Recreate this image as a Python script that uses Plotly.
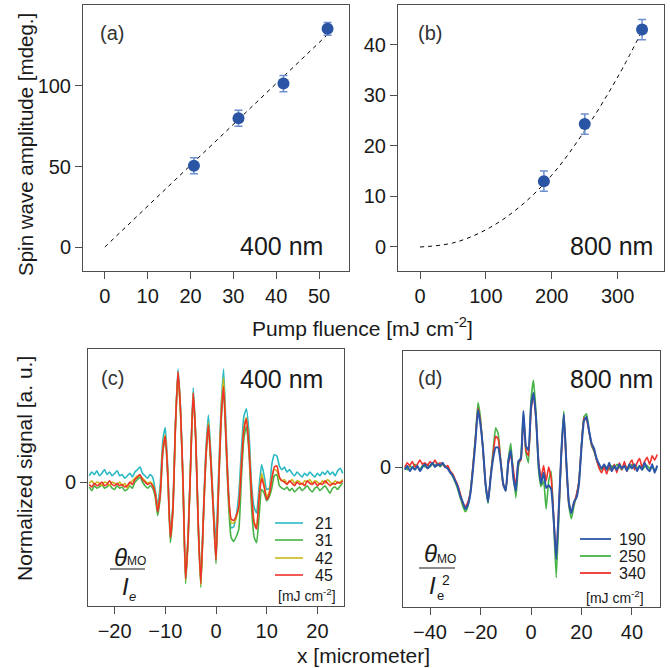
import plotly.graph_objects as go

W, H = 670, 668
FONT = "Liberation Sans, Arial, Helvetica, sans-serif"

# ---------------- (a) 400 nm pump: spin-wave amplitude vs fluence ----------------
fluence_400 = [20.8, 31.2, 41.7, 52.0]
amp_400 = [50.5, 80.0, 101.5, 135.5]
err_400 = [5.0, 5.0, 5.0, 4.0]
fit_400_x = [0, 52]
fit_400_y = [0, 132]

# ---------------- (b) 800 nm pump ----------------
fluence_800 = [188, 250, 337]
amp_800 = [13.0, 24.3, 43.0]
err_800 = [2.0, 2.0, 2.0]
fit_800_x = [0, 50, 100, 150, 200, 250, 300, 340]
fit_800_y = [0, 0.8, 3.4, 7.8, 14.2, 23.0, 33.6, 43.5]

# ---------------- (c) spatial profiles, 400 nm (theta_MO / I_e) ----------------
x_400 = [round(-25 + 0.5 * i, 2) for i in range(101)]
labels_400 = ["21", "31", "42", "45"]
colors_400 = ["#29b9c4", "#45b345", "#c9b918", "#f0302a"]
sig_21 = [0.05, 0.08, 0.06, 0.09, 0.05, 0.07, 0.10, 0.06, 0.08, 0.05,
          0.07, 0.09, 0.05, 0.06, 0.03, 0.05, 0.07, 0.04, 0.08, 0.10,
          0.12, 0.07, 0.05, 0.03, 0.06, 0.04, -0.06, -0.19, -0.02, 0.33,
          0.44, 0.10, -0.42, -0.18, 0.48, 0.91, 0.60, 0.02, -0.77, -0.42,
          0.18, 0.76, 0.38, -0.32, -0.80, -0.26, 0.26, 0.54, 0.22, -0.20,
          -0.47, 0.05, 0.60, 0.91, 0.40, -0.10, -0.37, -0.36, -0.27, -0.10,
          0.25, 0.53, 0.59, 0.40, -0.01, -0.20, -0.25, -0.04, 0.14, 0.05,
          -0.06, -0.05, 0.14, 0.22, 0.21, 0.13, 0.10, 0.12, 0.08, 0.10,
          0.07, 0.05, 0.08, 0.06, 0.04, 0.07, 0.05, 0.08, 0.06, 0.04,
          0.07, 0.05, 0.08, 0.06, 0.09, 0.06, 0.08, 0.05, 0.09, 0.11,
          0.07]
sig_31 = [-0.04, -0.07, -0.03, -0.05, -0.04, -0.02, -0.05, -0.04, -0.02, -0.05,
          -0.06, -0.03, -0.05, -0.04, -0.07, -0.06, -0.03, -0.05, 0.00, 0.02,
          0.04, 0.00, -0.03, -0.05, -0.03, -0.05, -0.12, -0.27, -0.12, 0.23,
          0.36, 0.02, -0.49, -0.24, 0.43, 0.87, 0.56, -0.04, -0.82, -0.47,
          0.13, 0.70, 0.33, -0.38, -0.85, -0.32, 0.18, 0.44, 0.13, -0.27,
          -0.66, -0.08, 0.48, 0.75, 0.28, -0.20, -0.45, -0.48, -0.44, -0.38,
          0.02, 0.35, 0.45, 0.24, -0.20, -0.44, -0.49, -0.28, -0.06, -0.09,
          -0.15, -0.12, -0.05, 0.05, 0.06, -0.03, -0.05, -0.06, -0.04, -0.07,
          -0.05, -0.08, -0.06, -0.04, -0.07, -0.05, -0.03, -0.06, -0.08, -0.05,
          -0.04, -0.07, -0.05, -0.03, -0.06, -0.09, -0.05, -0.04, -0.06, -0.03,
          -0.01]
sig_42 = [-0.01, 0.01, -0.02, 0.00, -0.01, -0.03, 0.00, -0.01, -0.03, 0.00,
          -0.01, -0.02, 0.00, -0.03, -0.01, -0.05, -0.01, 0.01, 0.03, 0.05,
          0.05, 0.03, 0.01, -0.01, 0.00, -0.02, -0.08, -0.23, -0.08, 0.27,
          0.38, 0.06, -0.44, -0.21, 0.46, 0.88, 0.57, 0.00, -0.79, -0.44,
          0.16, 0.72, 0.36, -0.34, -0.83, -0.29, 0.22, 0.48, 0.16, -0.24,
          -0.61, -0.02, 0.55, 0.84, 0.34, -0.12, -0.33, -0.33, -0.29, -0.19,
          0.14, 0.44, 0.52, 0.30, -0.08, -0.32, -0.36, -0.11, 0.07, -0.02,
          -0.12, -0.08, 0.04, 0.10, 0.09, 0.03, 0.01, 0.02, -0.01, 0.00,
          0.02, -0.01, 0.01, 0.00, -0.02, 0.01, 0.00, 0.02, -0.01, 0.01,
          0.00, -0.02, 0.01, -0.01, 0.02, 0.00, -0.02, 0.01, -0.01, 0.00,
          0.02]
sig_45 = [-0.02, -0.04, -0.01, -0.03, -0.02, 0.00, -0.03, -0.02, 0.01, -0.02,
          -0.03, -0.01, -0.03, -0.02, -0.04, -0.03, 0.00, -0.02, 0.02, 0.04,
          0.06, 0.02, 0.00, -0.02, -0.01, -0.03, -0.09, -0.24, -0.10, 0.25,
          0.37, 0.05, -0.45, -0.22, 0.45, 0.89, 0.58, -0.01, -0.78, -0.45,
          0.15, 0.72, 0.35, -0.35, -0.82, -0.30, 0.20, 0.46, 0.15, -0.25,
          -0.63, -0.05, 0.50, 0.77, 0.32, -0.12, -0.30, -0.31, -0.27, -0.20,
          0.12, 0.42, 0.51, 0.28, -0.09, -0.33, -0.38, -0.13, 0.03, -0.04,
          -0.14, -0.10, 0.02, 0.12, 0.13, 0.04, 0.01, 0.00, -0.02, 0.01,
          -0.01, -0.03, 0.00, -0.02, -0.01, -0.03, 0.01, -0.01, -0.02, 0.00,
          -0.03, -0.01, -0.02, 0.01, -0.01, -0.03, -0.01, -0.02, 0.00, -0.01,
          0.01]
signals_400 = [sig_21, sig_31, sig_42, sig_45]

# ---------------- (d) spatial profiles, 800 nm (theta_MO / I_e^2) ----------------
x_800 = list(range(-50, 51))
labels_800 = ["190", "250", "340"]
colors_800 = ["#2b55a8", "#45b345", "#f0302a"]
sig_190 = [-0.02, 0.01, -0.03, 0.00, -0.02, 0.01, -0.03, 0.00, 0.02, -0.01,
           0.01, 0.03, 0.00, 0.02, 0.01, 0.03, 0.00, -0.01, -0.04, -0.06,
           -0.10, -0.14, -0.21, -0.25, -0.30, -0.27, -0.19, -0.02, 0.18, 0.41,
           0.30, 0.13, -0.12, -0.25, -0.08, 0.06, 0.14, 0.14, 0.03, -0.12,
           -0.17, 0.04, 0.12, -0.08, -0.17, 0.04, 0.06, 0.40, 0.15, 0.12,
           0.43, 0.53, 0.35, 0.02, -0.12, -0.04, -0.15, -0.13, -0.16, -0.38,
           -0.66, -0.30, 0.10, 0.38, 0.03, -0.25, -0.33, -0.25, -0.22, -0.12,
           0.14, 0.33, 0.36, 0.26, 0.17, 0.13, 0.06, 0.02, -0.01, 0.02,
           -0.02, 0.03, -0.03, 0.01, -0.02, 0.02, -0.01, 0.01, -0.03, 0.02,
           -0.01, 0.02, -0.03, 0.01, -0.02, 0.03, -0.01, -0.03, 0.02, -0.04,
           0.01]
sig_250 = [0.00, -0.02, 0.01, -0.01, 0.02, 0.00, -0.02, 0.01, 0.00, 0.02,
           0.00, 0.02, 0.01, 0.03, 0.00, 0.02, 0.01, -0.01, -0.03, -0.07,
           -0.11, -0.16, -0.22, -0.28, -0.32, -0.28, -0.17, 0.01, 0.22, 0.46,
           0.35, 0.12, -0.13, -0.26, -0.06, 0.12, 0.28, 0.24, 0.05, -0.12,
           -0.17, 0.05, 0.17, -0.05, -0.22, 0.00, 0.08, 0.39, 0.10, 0.03,
           0.48, 0.62, 0.38, -0.02, -0.14, -0.10, -0.30, -0.10, -0.03, -0.40,
           -0.79, -0.38, 0.10, 0.40, 0.05, -0.28, -0.37, -0.28, -0.20, -0.10,
           0.16, 0.36, 0.38, 0.26, 0.15, 0.11, 0.05, 0.00, -0.02, 0.01,
           0.00, -0.02, 0.01, -0.01, 0.02, 0.00, -0.02, 0.01, 0.00, -0.01,
           0.02, 0.00, -0.01, 0.01, -0.02, 0.00, 0.01, -0.01, 0.00, -0.02,
           -0.01]
sig_340 = [0.00, 0.03, 0.01, 0.04, 0.00, 0.02, 0.05, 0.02, 0.03, 0.01,
           0.04, 0.02, 0.05, 0.01, 0.03, 0.02, 0.00, 0.01, -0.03, -0.05,
           -0.09, -0.13, -0.19, -0.26, -0.28, -0.25, -0.18, 0.00, 0.20, 0.42,
           0.32, 0.12, -0.12, -0.24, -0.07, 0.09, 0.22, 0.20, 0.04, -0.13,
           -0.16, 0.02, 0.09, -0.02, -0.14, 0.03, 0.05, 0.36, 0.12, 0.08,
           0.40, 0.52, 0.34, 0.04, -0.08, 0.01, -0.10, 0.00, -0.08, -0.36,
           -0.64, -0.30, 0.08, 0.37, 0.02, -0.26, -0.32, -0.26, -0.20, -0.10,
           0.15, 0.35, 0.34, 0.25, 0.16, 0.12, 0.05, -0.01, -0.04, 0.00,
           -0.05, 0.01, -0.03, 0.02, -0.04, 0.03, -0.02, 0.04, -0.03, 0.02,
           0.05, -0.02, 0.03, 0.06, 0.00, 0.04, 0.07, 0.02, 0.08, 0.05,
           0.09]
signals_800 = [sig_190, sig_250, sig_340]
draw_order_800 = [1, 2, 0]  # blue trace painted last


def px(x):
    return x / W


def py(y):
    return 1 - y / H


fig = go.Figure()

MARK = "#2a55a5"
ERR = "#6d8fd0"

# (a)
fig.add_trace(go.Scatter(x=fit_400_x, y=fit_400_y, mode="lines",
                         line=dict(color="black", width=1, dash="4px,4px"),
                         xaxis="x", yaxis="y", showlegend=False))
fig.add_trace(go.Scatter(x=fluence_400, y=amp_400, mode="markers",
                         marker=dict(color=MARK, size=12),
                         error_y=dict(type="data", array=err_400, color=ERR,
                                      thickness=1.5, width=4),
                         xaxis="x", yaxis="y", showlegend=False))
# (b)
fig.add_trace(go.Scatter(x=fit_800_x, y=fit_800_y, mode="lines",
                         line=dict(color="black", width=1, dash="4px,4px", shape="spline"),
                         xaxis="x2", yaxis="y2", showlegend=False))
fig.add_trace(go.Scatter(x=fluence_800, y=amp_800, mode="markers",
                         marker=dict(color=MARK, size=12),
                         error_y=dict(type="data", array=err_800, color=ERR,
                                      thickness=1.5, width=4),
                         xaxis="x2", yaxis="y2", showlegend=False))
# (c)
for sig, col in zip(signals_400, colors_400):
    fig.add_trace(go.Scatter(x=x_400, y=sig, mode="lines",
                             line=dict(color=col, width=1.6, shape="spline", smoothing=0.5),
                             xaxis="x3", yaxis="y3", showlegend=False))
# (d)
for k in draw_order_800:
    fig.add_trace(go.Scatter(x=x_800, y=signals_800[k], mode="lines",
                             line=dict(color=colors_800[k], width=2.0 if k == 0 else 1.6,
                                       shape="spline", smoothing=0.4),
                             xaxis="x4", yaxis="y4", showlegend=False))

AX = dict(showline=True, linecolor="#4d4d4d", linewidth=1, mirror=True,
          ticks="outside", ticklen=7, tickcolor="#4d4d4d", tickwidth=1,
          showgrid=False, zeroline=False,
          tickfont=dict(family=FONT, size=20, color="#1a1a1a"))

fig.update_layout(
    width=W, height=H, margin=dict(l=0, r=0, t=0, b=0),
    paper_bgcolor="white", plot_bgcolor="white",
    xaxis=dict(AX, domain=[px(83), px(349)], range=[-5.1, 57], anchor="y",
               tickvals=[0, 10, 20, 30, 40, 50]),
    yaxis=dict(AX, domain=[py(271), py(5)], range=[-14.9, 150.3], anchor="x",
               tickvals=[0, 50, 100]),
    xaxis2=dict(AX, domain=[px(398), px(664)], range=[-33.4, 370.3], anchor="y2",
                tickvals=[0, 100, 200, 300]),
    yaxis2=dict(AX, domain=[py(271), py(5)], range=[-4.75, 47.85], anchor="x2",
                tickvals=[0, 10, 20, 30, 40]),
    xaxis3=dict(AX, domain=[px(88), px(344)], range=[-25.25, 25.25], anchor="y3",
                tickvals=[-20, -10, 0, 10, 20]),
    yaxis3=dict(AX, domain=[py(606), py(349)], range=[-1.0, 1.0726], anchor="x3",
                tickvals=[0], ticktext=["0"]),
    xaxis4=dict(AX, domain=[px(403), px(660)], range=[-50.7, 51.1], anchor="y4",
                tickvals=[-40, -20, 0, 20, 40]),
    yaxis4=dict(AX, domain=[py(607), py(351)], range=[-1.0, 0.829], anchor="x4",
                tickvals=[0], ticktext=["0"]),
)

ann = []


def text(x, y, s, size, angle=0, xanchor="center", color="#1a1a1a", style="normal"):
    ann.append(dict(x=px(x), y=py(y), xref="paper", yref="paper", text=s,
                    showarrow=False, xanchor=xanchor, yanchor="middle",
                    textangle=angle,
                    font=dict(family=FONT, size=size, color=color, style=style)))


# axis titles
text(25, 145, "Spin wave amplitude [mdeg.]", 20.5, angle=-90)
text(362, 327, "Pump fluence [mJ cm<sup>-2</sup>]", 21)
text(25, 469, "Normalized signal [a. u.]", 21, angle=-90)
text(364, 655, "x [micrometer]", 21)

# panel tags and wavelengths
text(112, 33, "(a)", 20, color="#333333")
text(430, 33, "(b)", 20, color="#333333")
text(112, 378, "(c)", 20, color="#333333")
text(430, 378, "(d)", 20, color="#333333")
text(281, 246, "400 nm", 25)
text(611, 246, "800 nm", 25)
text(281, 379, "400 nm", 25)
text(611, 379, "800 nm", 25)

shapes = []

# legend (c)
leg_y_400 = [523, 540, 558, 575]
for lab, col, yy in zip(labels_400, colors_400, leg_y_400):
    shapes.append(dict(type="line", xref="paper", yref="paper",
                       x0=px(275), x1=px(303), y0=py(yy), y1=py(yy),
                       line=dict(color=col, width=1.6)))
    text(313, yy, lab, 16, xanchor="left")
text(338, 595, "[mJ cm<sup>-2</sup>]", 14, xanchor="right")

# legend (d)
leg_y_800 = [539, 556, 573]
for lab, col, yy in zip(labels_800, colors_800, leg_y_800):
    shapes.append(dict(type="line", xref="paper", yref="paper",
                       x0=px(580), x1=px(611), y0=py(yy), y1=py(yy),
                       line=dict(color=col, width=1.8)))
    text(617, yy, lab, 16, xanchor="left")
text(646, 597, "[mJ cm<sup>-2</sup>]", 14, xanchor="right")

# normalisation fractions
text(120, 557, "θ", 24, style="italic")
text(136, 561, "MO", 12)
shapes.append(dict(type="line", xref="paper", yref="paper",
                   x0=px(110), x1=px(145), y0=py(569), y1=py(569),
                   line=dict(color="#1a1a1a", width=1.2)))
text(125, 586, "I", 24, style="italic")
text(132, 596, "e", 13, style="italic")

text(430, 553, "θ", 24, style="italic")
text(447, 559, "MO", 12)
shapes.append(dict(type="line", xref="paper", yref="paper",
                   x0=px(419), x1=px(455), y0=py(568), y1=py(568),
                   line=dict(color="#1a1a1a", width=1.2)))
text(433, 585, "I", 24, style="italic")
text(446, 580, "2", 14)
text(440, 595, "e", 13)

fig.update_layout(annotations=ann, shapes=shapes)
fig.write_html("out.html")
